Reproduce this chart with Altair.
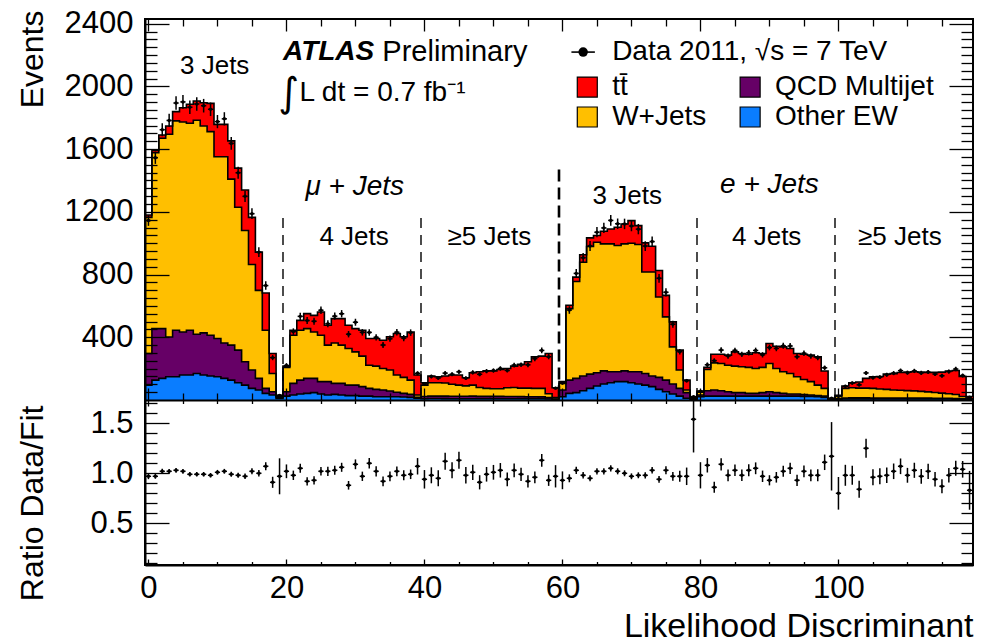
import numpy as np
import pandas as pd
import altair as alt

# ---------------------------------------------------------------------------
# Likelihood discriminant, 120 bins: mu+jets (0-59) and e+jets (60-119),
# each split in 3 / 4 / >=5 jet blocks of 20 bins.  Bin i is centred on i.
# ---------------------------------------------------------------------------
other_ew = [95, 127, 138, 148, 148, 159, 159, 169, 159, 153, 148, 138, 127, 110, 95, 74, 64, 42, 32, 10,
            25, 32, 38, 42, 47, 38, 32, 36, 32, 28, 28, 25, 25, 21, 21, 21, 21, 19, 17, 11,
            8, 10, 10, 9, 8, 8, 8, 8, 9, 9, 8, 8, 8, 8, 9, 9, 9, 8, 6, 3,
            21, 42, 47, 59, 74, 89, 102, 110, 117, 117, 110, 102, 95, 85, 68, 53, 38, 25, 11, 4,
            21, 25, 25, 25, 25, 25, 25, 25, 25, 25, 25, 25, 25, 25, 25, 23, 23, 21, 17, 3,
            4, 6, 7, 7, 7, 7, 7, 7, 7, 7, 7, 6, 6, 6, 6, 6, 6, 5, 4, 2]

qcd_multijet = [202, 328, 317, 254, 297, 275, 286, 250, 269, 260, 244, 226, 223, 208, 149, 117, 74, 32, 21, 6,
                28, 74, 89, 96, 91, 79, 85, 70, 74, 67, 67, 60, 49, 47, 43, 36, 28, 23, 19, 6,
                14, 15, 15, 16, 16, 16, 16, 17, 15, 15, 15, 15, 14, 14, 13, 12, 12, 12, 9, 3,
                43, 85, 91, 94, 91, 85, 84, 70, 63, 69, 70, 78, 74, 68, 76, 74, 64, 49, 36, 4,
                11, 34, 39, 34, 28, 22, 22, 17, 17, 22, 28, 22, 17, 13, 13, 11, 9, 7, 8, 2,
                4, 6, 7, 7, 7, 6, 6, 6, 6, 6, 5, 6, 6, 6, 5, 5, 5, 5, 4, 2]

w_jets = [868, 1123, 1214, 1293, 1335, 1339, 1320, 1365, 1320, 1299, 1159, 1187, 1059, 911, 837, 673, 561, 371, 116, 8,
          155, 307, 318, 317, 296, 296, 233, 258, 244, 233, 212, 195, 148, 148, 137, 134, 110, 102, 91, 15,
          73, 85, 85, 83, 76, 71, 66, 70, 56, 50, 49, 49, 56, 58, 54, 55, 53, 54, 25, 9,
          42, 456, 618, 726, 814, 832, 810, 816, 805, 810, 820, 812, 647, 663, 513, 403, 237, 117, 17, 4,
          18, 136, 173, 174, 169, 169, 165, 166, 159, 161, 180, 154, 138, 131, 110, 97, 85, 67, 49, 3,
          14, 62, 64, 62, 62, 61, 57, 55, 51, 49, 48, 46, 43, 40, 37, 33, 29, 25, 14, 4]

ttbar = [15, 15, 21, 53, 59, 91, 121, 123, 148, 180, 207, 207, 244, 250, 258, 301, 244, 237, 128, 6,
         8, 32, 63, 96, 106, 148, 127, 155, 169, 149, 148, 165, 170, 176, 180, 212, 265, 259, 307, 127,
         15, 43, 38, 45, 59, 64, 52, 79, 100, 112, 114, 123, 123, 136, 151, 168, 201, 206, 257, 63,
         11, 21, 28, 47, 55, 43, 80, 95, 117, 127, 144, 120, 186, 165, 169, 137, 159, 127, 63, 2,
         7, 13, 55, 59, 64, 91, 85, 84, 100, 89, 127, 142, 159, 159, 149, 161, 169, 180, 111, 2,
         8, 15, 32, 39, 62, 74, 80, 97, 104, 113, 118, 122, 123, 123, 128, 134, 145, 153, 128, 14]

ratio_data_fit = [0.97, 0.97, 1.02, 1.02, 1.03, 1.02, 0.99, 0.99, 0.99, 0.98, 1.01, 1.02, 0.99, 0.98, 0.97, 1.02, 1.00, 1.07, 0.91, 0.97,
                  1.02, 0.98, 1.05, 0.92, 0.93, 1.02, 1.02, 1.03, 1.06, 0.88, 1.09, 0.97, 1.10, 1.02, 0.92, 0.97, 1.02, 0.98, 0.99, 1.07,
                  0.94, 0.98, 0.95, 1.12, 1.03, 1.13, 0.98, 1.01, 0.91, 0.99, 1.01, 1.03, 0.94, 1.03, 0.99, 0.92, 0.96, 1.13, 0.93, 0.97,
                  0.93, 0.95, 1.03, 0.98, 0.95, 1.02, 1.02, 1.05, 1.02, 1.00, 0.97, 0.98, 0.98, 1.03, 0.94, 1.03, 0.97, 0.97, 0.97, 1.54,
                  0.98, 1.08, 0.86, 1.09, 0.98, 1.03, 0.98, 1.03, 1.05, 0.97, 0.93, 0.96, 1.02, 1.05, 0.93, 1.02, 0.98, 0.98, 1.11, 1.17,
                  0.80, 0.98, 0.98, 0.84, 1.25, 0.96, 0.97, 0.98, 1.02, 1.07, 0.98, 1.03, 0.97, 1.02, 0.94, 0.87, 0.98, 1.05, 1.04, 0.83]

x_major = [0, 20, 40, 60, 80, 100]
x_minor = [v for v in range(5, 120, 5) if v % 20]
events_major = [400, 800, 1200, 1600, 2000, 2400]
events_minor = [v for v in range(50, 2430, 50) if v % 400]
ratio_major = [0.5, 1.0, 1.5]
ratio_minor = [round(k / 10, 1) for k in range(1, 18) if k % 5]

# channel / jet-bin separators and their labels
separators = [19.5, 39.5, 79.5, 99.5]
separator_top = 1160
lepton_separator = 59.5
lepton_separator_top = 1470

block_labels = pd.DataFrame({
    "x": [9.6, 29.8, 49.4, 69.4, 89.6, 108.9],
    "y": [2130, 1040, 1040, 1300, 1040, 1040],
    "text": ["3 Jets", "4 Jets", "≥5 Jets", "3 Jets", "4 Jets", "≥5 Jets"],
})
channel_labels = pd.DataFrame({"x": [29.9, 90.0], "y": [1358, 1371],
                               "text": ["μ + Jets", "e + Jets"]})

# ---------------------------------------------------------------------------
# derived tables
# ---------------------------------------------------------------------------
n_bins = len(other_ew)
centre = np.arange(n_bins, dtype=float)
ew = np.array(other_ew, float)
qcd = np.array(qcd_multijet, float)
wj = np.array(w_jets, float)
tt = np.array(ttbar, float)
cum = [np.zeros(n_bins), ew, ew + qcd, ew + qcd + wj, ew + qcd + wj + tt]
fit = cum[4]
ratio = np.array(ratio_data_fit, float)
data = ratio * fit
data_err = np.sqrt(data)
ratio_err = data_err / fit

edges = np.append(centre - 0.5, centre[-1] + 0.5)
hist = pd.DataFrame({"edge": edges})
for k, c in enumerate(cum):
    hist[f"c{k}"] = np.append(c, c[-1])

half = 0.38
points = pd.DataFrame({
    "bin": centre, "xl": centre - half, "xr": centre + half,
    "data": data, "dlo": data - data_err, "dhi": data + data_err,
    "ratio": ratio, "rlo": ratio - ratio_err, "rhi": ratio + ratio_err,
})

sep_df = pd.DataFrame({"x": separators, "top": separator_top, "bottom": 0})
lep_df = pd.DataFrame({"x": [lepton_separator], "top": [lepton_separator_top], "bottom": [0]})

# ---------------------------------------------------------------------------
# geometry and scales
# ---------------------------------------------------------------------------
W = 828
H_TOP = 381
H_RATIO = 165
H = H_TOP + H_RATIO
FONT = "Liberation Sans"

X_SCALE = alt.Scale(domain=[-0.5, 119.5], nice=False, zero=False)
Y_EVENTS = alt.Scale(domain=[0, 2430], range=[H_TOP, 0], nice=False, zero=False)
Y_RATIO = alt.Scale(domain=[0.083, 1.733], range=[H, H_TOP], nice=False, zero=False, clamp=True)

COLORS = {"ew": "#0a7dff", "qcd": "#660066", "w": "#ffbf00", "tt": "#ff0000"}


def tick_axis(orient, offset, length, values, domain=False):
    """Inward-pointing ticks (ROOT style): axis shifted inside by its tick length."""
    return alt.Axis(orient=orient, offset=offset, values=values, ticks=True, tickSize=length,
                    tickColor="black", tickWidth=1.3, labels=False, domain=domain,
                    domainColor="black", domainWidth=2, grid=False, title=None, zindex=1)


label_common = dict(ticks=False, tickSize=0, labelFont=FONT, labelFontSize=31, labelColor="black",
                    labelFlush=False, domain=True, domainColor="black", domainWidth=2, grid=False,
                    titleFont=FONT, titleFontWeight="normal", titleColor="black", zindex=1)

events_axis = alt.Axis(orient="left", values=events_major, format="d", labelPadding=12,
                       title="Events", titleFontSize=32, titleAngle=270, titleAlign="right",
                       titleBaseline="middle", titleX=-113, titleY=-9, **label_common)
ratio_axis = alt.Axis(orient="left", values=ratio_major, format=".1f", labelPadding=12,
                      title="Ratio Data/Fit", titleFontSize=32, titleAngle=270, titleAlign="right",
                      titleBaseline="middle", titleX=-113, titleY=H_TOP + 5, **label_common)
x_axis = alt.Axis(orient="bottom", values=x_major, format="d", labelPadding=8,
                  title="Likelihood Discriminant", titleFontSize=34, titleAngle=0, titleAlign="right",
                  titleBaseline="alphabetic", titleX=W, titleY=71, **label_common)


def X(field, axis=None):
    return alt.X(f"{field}:Q", scale=X_SCALE, axis=axis)


def YE(field, axis=None):
    return alt.Y(f"{field}:Q", scale=Y_EVENTS, axis=axis)


def YR(field, axis=None):
    return alt.Y(f"{field}:Q", scale=Y_RATIO, axis=axis)


# ---------------------------------------------------------------------------
# upper panel: stacked templates, outlines, data
# ---------------------------------------------------------------------------
area_axes = [
    (x_axis, events_axis),
    (tick_axis("bottom", -6, 6, x_major), tick_axis("left", -24, 24, events_major)),
    (tick_axis("bottom", -3.5, 3.5, x_minor), tick_axis("left", -12, 12, events_minor)),
    (tick_axis("bottom", -H_RATIO, 6, x_major, domain=True), tick_axis("right", -24, 24, events_major)),
]
line_axes = [
    (tick_axis("bottom", -H_RATIO, 3.5, x_minor), tick_axis("right", -12, 12, events_minor)),
    (tick_axis("top", -H_TOP, 12, x_major), None),
    (tick_axis("top", -H_TOP, 7, x_minor), None),
    (tick_axis("top", -12, 12, x_major), None),
]

layers = []
for k, key in enumerate(["ew", "qcd", "w", "tt"], start=1):
    xa, ya = area_axes[k - 1]
    layers.append(
        alt.Chart(hist).mark_area(interpolate="step-after", color=COLORS[key], opacity=1)
        .encode(x=X("edge", xa), y=YE(f"c{k}", ya), y2=alt.Y2(f"c{k - 1}:Q"))
    )
for k in range(1, 5):
    xa, ya = line_axes[k - 1]
    layers.append(
        alt.Chart(hist).mark_line(interpolate="step-after", color="black", strokeWidth=1.6)
        .encode(x=X("edge", xa), y=YE(f"c{k}", ya))
    )

layers.append(
    alt.Chart(sep_df).mark_rule(color="black", strokeWidth=1.4, strokeDash=[10, 7])
    .encode(x=X("x", tick_axis("top", -7, 7, x_minor)), y=YE("top"), y2=alt.Y2("bottom:Q"))
)
layers.append(
    alt.Chart(lep_df).mark_rule(color="black", strokeWidth=2.6, strokeDash=[12, 6])
    .encode(x=X("x"), y=YE("top"), y2=alt.Y2("bottom:Q"))
)

# data with statistical errors
layers.append(alt.Chart(points).mark_rule(color="black", strokeWidth=1.5)
              .encode(x=X("bin"), y=YE("dlo"), y2=alt.Y2("dhi:Q")))
layers.append(alt.Chart(points).mark_rule(color="black", strokeWidth=1.5)
              .encode(x=X("xl"), x2=alt.X2("xr:Q"), y=YE("data")))
layers.append(alt.Chart(points).mark_circle(color="black", size=12, opacity=1)
              .encode(x=X("bin"), y=YE("data")))

# region labels
layers.append(alt.Chart(block_labels).mark_text(font=FONT, fontSize=26, color="black",
                                                align="center", baseline="middle")
              .encode(x=X("x"), y=YE("y"), text="text:N"))
layers.append(alt.Chart(channel_labels).mark_text(font=FONT, fontSize=28, fontStyle="italic",
                                                  color="black", align="center", baseline="middle")
              .encode(x=X("x"), y=YE("y"), text="text:N"))

# ATLAS label and luminosity
layers.append(alt.Chart(pd.DataFrame({"x": [19.5], "y": [2219], "t": ["ATLAS"]}))
              .mark_text(font=FONT, fontSize=28, fontStyle="italic", fontWeight="bold",
                         color="black", align="left", baseline="middle")
              .encode(x=X("x"), y=YE("y"), text="t:N"))
layers.append(alt.Chart(pd.DataFrame({"x": [33.9], "y": [2219], "t": ["Preliminary"]}))
              .mark_text(font=FONT, fontSize=29, color="black", align="left", baseline="middle")
              .encode(x=X("x"), y=YE("y"), text="t:N"))
layers.append(alt.Chart(pd.DataFrame({"x": [18.8], "y": [1950], "t": ["∫"]}))
              .mark_text(font="DejaVu Sans", fontSize=40, color="black", align="left", baseline="middle")
              .encode(x=X("x"), y=YE("y"), text="t:N"))
layers.append(alt.Chart(pd.DataFrame({"x": [21.9], "y": [1958], "t": ["L dt = 0.7 fb⁻¹"]}))
              .mark_text(font=FONT, fontSize=28, color="black", align="left", baseline="middle")
              .encode(x=X("x"), y=YE("y"), text="t:N"))

# legend
legend_rows = pd.DataFrame({
    "xs": [63.6, 87.2, 63.6, 87.2],
    "xt": [67.2, 90.8, 67.2, 90.8],
    "y": [1996, 1996, 1805, 1805],
    "label": ["tt̄", "QCD Multijet", "W+Jets", "Other EW"],
    "key": ["tt", "qcd", "w", "ew"],
})
layers.append(alt.Chart(legend_rows).mark_square(size=400, opacity=1, stroke="black", strokeWidth=1.2)
              .encode(x=X("xs"), y=YE("y"),
                      color=alt.Color("key:N", legend=None,
                                      scale=alt.Scale(domain=list(COLORS.keys()),
                                                      range=list(COLORS.values())))))
layers.append(alt.Chart(legend_rows).mark_text(font=FONT, fontSize=28, color="black",
                                               align="left", baseline="middle")
              .encode(x=X("xt"), y=YE("y"), text="label:N"))
legend_data = pd.DataFrame({"x": [63.0], "x1": [61.3], "x2": [64.7], "y": [2219],
                            "xt": [67.2], "t": ["Data 2011, √s = 7 TeV"]})
layers.append(alt.Chart(legend_data).mark_rule(color="black", strokeWidth=1.6)
              .encode(x=X("x1"), x2=alt.X2("x2:Q"), y=YE("y")))
layers.append(alt.Chart(legend_data).mark_circle(color="black", size=90, opacity=1)
              .encode(x=X("x"), y=YE("y")))
layers.append(alt.Chart(legend_data).mark_text(font=FONT, fontSize=28, color="black",
                                               align="left", baseline="middle")
              .encode(x=X("xt"), y=YE("y"), text="t:N"))

# ---------------------------------------------------------------------------
# lower panel: data / fit ratio
# ---------------------------------------------------------------------------
layers.append(alt.Chart(points).mark_rule(color="black", strokeWidth=1.5)
              .encode(x=X("bin"), y=YR("rlo", ratio_axis), y2=alt.Y2("ratio:Q")))
layers.append(alt.Chart(points).mark_rule(color="black", strokeWidth=1.5)
              .encode(x=X("bin"), y=YR("ratio", tick_axis("left", -24, 24, ratio_major)),
                      y2=alt.Y2("rhi:Q")))
layers.append(alt.Chart(points).mark_rule(color="black", strokeWidth=1.5)
              .encode(x=X("xl"), x2=alt.X2("bin:Q"),
                      y=YR("ratio", tick_axis("left", -12, 12, ratio_minor))))
layers.append(alt.Chart(points).mark_rule(color="black", strokeWidth=1.5)
              .encode(x=X("bin"), x2=alt.X2("xr:Q"),
                      y=YR("ratio", tick_axis("right", -24, 24, ratio_major))))
layers.append(alt.Chart(points).mark_circle(color="black", size=12, opacity=1)
              .encode(x=X("bin"), y=YR("ratio", tick_axis("right", -12, 12, ratio_minor))))

chart = (
    alt.layer(*layers)
    .resolve_scale(y="independent", color="independent")
    .resolve_axis(x="independent", y="independent")
    .properties(width=W, height=H,
                padding={"left": 145, "top": 19, "right": 10, "bottom": 78},
                autosize=alt.AutoSizeParams(type="none"),
                background="white")
    .configure_view(stroke="black", strokeWidth=2)
)

chart.save("out.html", embed_options={"renderer": "svg", "actions": False})
